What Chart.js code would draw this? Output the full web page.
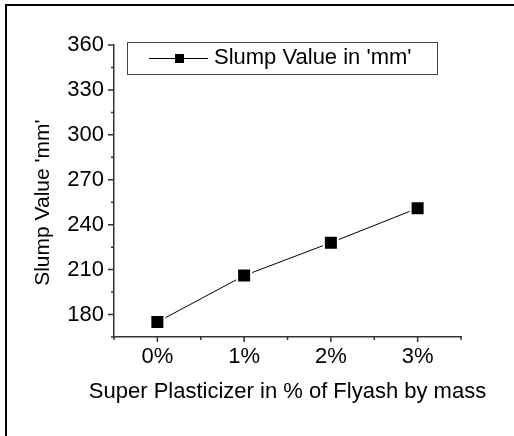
<!DOCTYPE html>
<html>
<head>
<meta charset="utf-8">
<script src="https://cdn.jsdelivr.net/npm/chart.js@4.4.1/dist/chart.umd.min.js"></script>
<style>
html, body { margin: 0; padding: 0; background: #fff; }
canvas { display: block; }
</style>
</head>
<body>
<canvas id="slump" width="514" height="436"></canvas>
<script>
// data
const dosages = ['0%', '1%', '2%', '3%'];
const slumpValues = [175, 206, 228, 251];
const yTicks = [180, 210, 240, 270, 300, 330, 360];
const yMinorTicks = [165, 195, 225, 255, 285, 315, 345];
const seriesLabel = "Slump Value in 'mm'";
const xTitle = 'Super Plasticizer in % of Flyash by mass';
const yTitle = "Slump Value 'mm'";

const FONT = "'Liberation Sans', Arial, Helvetica, sans-serif";
const AXIS = '#333';

// outer frame, minor/major ticks, x title (wider than the axis) and the legend
const decor = {
    id: 'decor',
    beforeDraw(chart) {
        const ctx = chart.ctx;
        ctx.save();
        ctx.fillStyle = '#000';
        ctx.fillRect(5, 4, chart.width - 5, 2);
        ctx.fillRect(5, 4, 2, chart.height - 4);
        ctx.restore();
    },
    afterDraw(chart) {
        const { ctx, scales: { x, y } } = chart;
        ctx.save();
        ctx.strokeStyle = AXIS;
        ctx.lineWidth = 1.5;
        ctx.beginPath();
        const xb = x.top;
        dosages.forEach((d, i) => {
            const px = x.getPixelForValue(i);
            ctx.moveTo(px, xb);
            ctx.lineTo(px, xb + 5);
        });
        for (let i = 0; i <= dosages.length; i++) {
            const px = x.getPixelForValue(i - 0.5);
            ctx.moveTo(px, xb);
            ctx.lineTo(px, xb + 3);
        }
        const yr = y.right;
        yTicks.forEach(v => {
            const py = y.getPixelForValue(v);
            ctx.moveTo(yr, py);
            ctx.lineTo(yr - 6, py);
        });
        yMinorTicks.forEach(v => {
            const py = y.getPixelForValue(v);
            ctx.moveTo(yr, py);
            ctx.lineTo(yr - 3, py);
        });
        ctx.stroke();

        // x axis title, not squeezed to the axis width
        ctx.fillStyle = '#000';
        ctx.font = '22px ' + FONT;
        ctx.textBaseline = 'middle';
        ctx.textAlign = 'center';
        ctx.fillText(xTitle, (x.left + x.right) / 2, 392);

        // legend
        ctx.lineWidth = 1;
        ctx.strokeStyle = '#444';
        ctx.strokeRect(127.5, 42.5, 310, 32);
        ctx.strokeStyle = '#000';
        ctx.beginPath();
        ctx.moveTo(149, 58.5);
        ctx.lineTo(208, 58.5);
        ctx.stroke();
        ctx.fillRect(175, 54, 9, 9);
        ctx.textAlign = 'left';
        ctx.fillText(chart.data.datasets[0].label, 214, 58);
        ctx.restore();
    }
};

new Chart(document.getElementById('slump'), {
    type: 'line',
    data: {
        labels: dosages,
        datasets: [{
            label: seriesLabel,
            data: slumpValues,
            borderColor: '#000',
            borderWidth: 1,
            tension: 0,
            pointStyle: 'rect',
            pointRadius: 9.9,
            pointHoverRadius: 9.9,
            pointBackgroundColor: '#000',
            pointBorderColor: '#fff',
            pointBorderWidth: 2
        }]
    },
    options: {
        responsive: false,
        animation: false,
        layout: {
            padding: { left: 0, top: 45, right: 53, bottom: 0 }
        },
        plugins: {
            legend: { display: false },
            tooltip: { enabled: false }
        },
        scales: {
            x: {
                type: 'category',
                offset: true,
                afterFit(scale) { scale.height = 99; },
                grid: { display: true, drawOnChartArea: false, drawTicks: false },
                border: { display: true, color: AXIS, width: 1.5 },
                ticks: {
                    color: '#000',
                    padding: 7,
                    font: { family: FONT, size: 22 }
                }
            },
            y: {
                min: 165,
                max: 360,
                afterFit(scale) { scale.width = 114; },
                afterBuildTicks(scale) {
                    scale.ticks = yTicks.map(v => ({ value: v }));
                },
                grid: { display: true, drawOnChartArea: false, drawTicks: false },
                border: { display: true, color: AXIS, width: 1.5 },
                ticks: {
                    color: '#000',
                    padding: 10,
                    font: { family: FONT, size: 22 }
                },
                title: {
                    display: true,
                    text: yTitle + '    ',
                    color: '#000',
                    font: { family: FONT, size: 21 },
                    padding: { top: 31, bottom: 0 }
                }
            }
        }
    },
    plugins: [decor]
});
</script>
</body>
</html>
